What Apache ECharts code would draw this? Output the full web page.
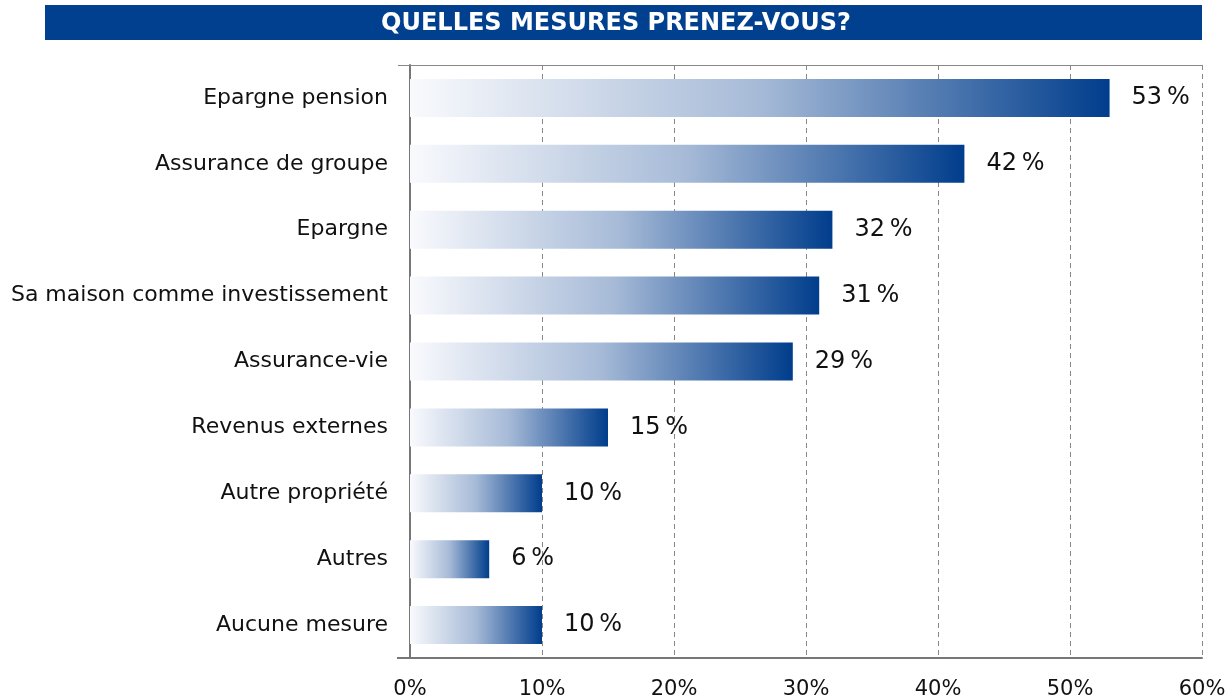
<!DOCTYPE html>
<html lang="fr">
<head>
    <meta charset="UTF-8">
    <title>Quelles mesures prenez-vous?</title>
    <script src="https://cdn.jsdelivr.net/npm/echarts@6.0.0/dist/echarts.min.js"></script>
    <style>
        * { margin: 0; padding: 0; }
        html, body { width: 1232px; height: 700px; background: #fff; }
        #chart { width: 1232px; height: 700px; }
    </style>
</head>
<body>
    <div id="chart"></div>
    <script>
        const titleText = 'QUELLES MESURES PRENEZ-VOUS?';
        const categories = [
            'Epargne pension',
            'Assurance de groupe',
            'Epargne',
            'Sa maison comme investissement',
            'Assurance-vie',
            'Revenus externes',
            'Autre propriété',
            'Autres',
            'Aucune mesure'
        ];
        const values = [53, 42, 32, 31, 29, 15, 10, 6, 10];
        const axisTicks = [0, 10, 20, 30, 40, 50, 60];

        const font = 'DejaVu Sans';
        const chart = echarts.init(document.getElementById('chart'), null, { renderer: 'canvas' });

        // each bar fades from near white on the left to dark blue at its end
        const barGradient = new echarts.graphic.LinearGradient(0, 0, 1, 0, [
            { offset: 0, color: '#f9fafd' },
            { offset: 0.5, color: '#a6bad7' },
            { offset: 1, color: '#003d8c' }
        ]);

        const option = {
            animation: false,
            graphic: [{
                type: 'rect',
                left: 45,
                top: 5,
                shape: { width: 1157, height: 35 },
                style: { fill: '#00408f' },
                z: 0
            }, {
                // short stubs of the frame lines left of the y axis
                type: 'line',
                shape: { x1: 398, y1: 65.5, x2: 410, y2: 65.5 },
                style: { stroke: '#888', lineWidth: 1 }
            }, {
                type: 'line',
                shape: { x1: 397, y1: 658, x2: 410, y2: 658 },
                style: { stroke: '#777', lineWidth: 2 }
            }],
            title: {
                text: titleText,
                left: 'center',
                top: 7,
                textStyle: { color: '#fff', fontFamily: font, fontWeight: 'bold', fontSize: 24 }
            },
            grid: { left: 410, right: 30, top: 65, bottom: 42 },
            xAxis: [{
                type: 'value',
                min: axisTicks[0],
                max: axisTicks[axisTicks.length - 1],
                interval: 10,
                axisLine: { show: true, lineStyle: { color: '#777', width: 2 } },
                axisTick: { show: false },
                axisLabel: {
                    formatter: '{value}%',
                    color: '#111',
                    fontFamily: font,
                    fontSize: 21,
                    margin: 21
                },
                splitLine: { show: true, lineStyle: { color: '#888', type: [5, 4], width: 1 } }
            }, {
                type: 'value',
                position: 'top',
                min: 0,
                max: 60,
                interval: 10,
                axisLine: { show: true, lineStyle: { color: '#888', width: 1 } },
                axisTick: { show: false },
                axisLabel: { show: false },
                splitLine: { show: false }
            }],
            yAxis: {
                type: 'category',
                inverse: true,
                data: categories,
                axisLine: { show: true, lineStyle: { color: '#777', width: 2 } },
                axisTick: { show: false },
                axisLabel: { color: '#111', fontFamily: font, fontSize: 22, margin: 22 }
            },
            series: [{
                type: 'bar',
                data: values,
                barWidth: 38,
                itemStyle: { color: barGradient },
                label: {
                    show: true,
                    position: 'right',
                    distance: 22,
                    formatter: '{c}\u2009%',
                    color: '#111',
                    fontFamily: font,
                    fontSize: 24
                }
            }]
        };

        chart.setOption(option);
        window.addEventListener('resize', chart.resize);
    </script>
</body>
</html>
